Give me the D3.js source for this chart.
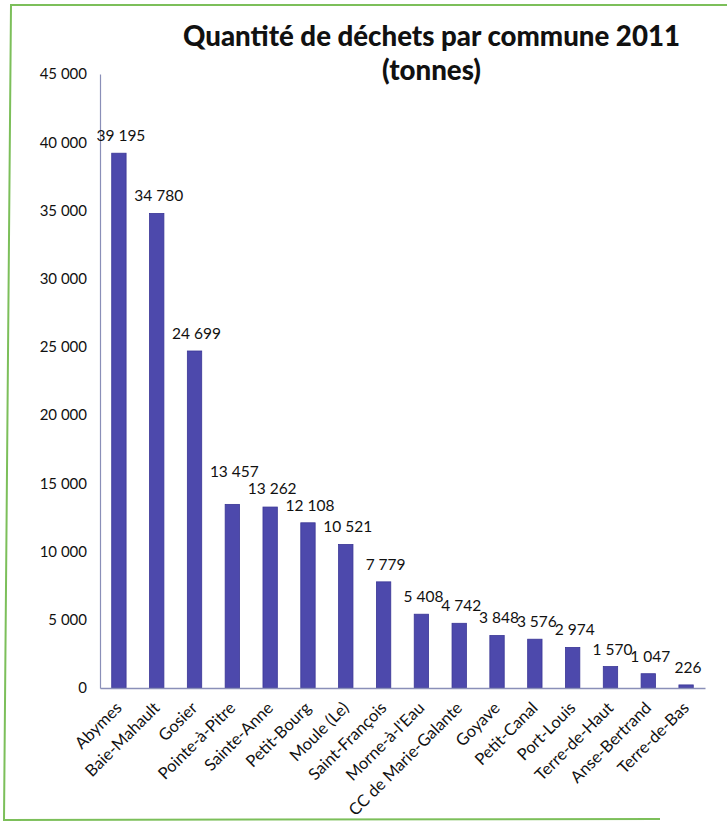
<!DOCTYPE html>
<html><head><meta charset="utf-8">
<script src="https://cdn.jsdelivr.net/npm/d3@7"></script>
<style>body{margin:0;background:#fff}svg{display:block}</style>
</head><body>
<script>
const communes = ["Abymes","Baie-Mahault","Gosier","Pointe-à-Pitre","Sainte-Anne","Petit-Bourg","Moule (Le)","Saint-François","Morne-à-l'Eau","CC de Marie-Galante","Goyave","Petit-Canal","Port-Louis","Terre-de-Haut","Anse-Bertrand","Terre-de-Bas"];
const tonnes = [39195,34780,24699,13457,13262,12108,10521,7779,5408,4742,3848,3576,2974,1570,1047,226];
const yTicks = [0,5000,10000,15000,20000,25000,30000,35000,40000,45000];
const titleLines = ["Quantité de déchets par commune 2011","(tonnes)"];

const W = 727, H = 823;
const svg = d3.select("body").append("svg").attr("width", W).attr("height", H);
const font = "Lato, 'Open Sans', sans-serif";
const fmt = v => d3.format(",")(v).replace(/,/g, " ");

// frame (scanned page border)
svg.append("path").attr("d", "M727,5 L11,5 L4,820 L660,819")
  .attr("fill", "none").attr("stroke", "#7cbf5a").attr("stroke-width", 2);

const x = d3.scaleBand().domain(communes).range([100, 705]).paddingInner(0.62).paddingOuter(0.31);
const y = d3.scaleLinear().domain([0, 45000]).range([688, 74]);

// title
svg.append("text").attr("x", 431.5).attr("y", 46).attr("text-anchor", "middle")
  .attr("font-family", font).attr("font-weight", 900).attr("font-size", 29)
  .attr("textLength", 497).attr("lengthAdjust", "spacingAndGlyphs")
  .attr("fill", "#111").text(titleLines[0]);
svg.append("text").attr("x", 431.5).attr("y", 80).attr("text-anchor", "middle")
  .attr("font-family", font).attr("font-weight", 900).attr("font-size", 29)
  .attr("textLength", 99).attr("lengthAdjust", "spacingAndGlyphs")
  .attr("fill", "#111").text(titleLines[1]);

// y axis
const yAxis = svg.append("g").attr("transform", "translate(100,0)")
  .call(d3.axisLeft(y).tickValues(yTicks).tickSize(0).tickPadding(13).tickFormat(fmt));
yAxis.select(".domain").attr("stroke", "#8a8fb8").attr("stroke-width", 1.2);
yAxis.selectAll("text").attr("font-family", font).attr("font-size", 15).attr("fill", "#111");

// bars
svg.append("g").selectAll("rect").data(communes).join("rect")
  .attr("x", d => x(d)).attr("width", x.bandwidth())
  .attr("y", (d, i) => y(tonnes[i])).attr("height", (d, i) => y(0) - y(tonnes[i]))
  .attr("fill", "#4d49ac").attr("stroke", "#3a3696").attr("stroke-width", 0.8);

// x axis
const xAxis = svg.append("g").attr("transform", "translate(0,688)")
  .call(d3.axisBottom(x).tickSize(0).tickPadding(0));
xAxis.select(".domain").attr("stroke", "#8a8fb8").attr("stroke-width", 1.4);
xAxis.selectAll("text").attr("font-family", font).attr("font-size", 16.5).attr("fill", "#111")
  .attr("text-anchor", "end").attr("dy", 0)
  .attr("transform", "translate(4,21) rotate(-45)");

// value labels (raised when they would collide with the next label, as in the reference)
const labels = svg.append("g").selectAll("text").data(communes).join("text")
  .attr("x", d => x(d) + x.bandwidth() / 2 + 2)
  .attr("y", (d, i) => y(tonnes[i]) - 12)
  .attr("text-anchor", "middle").attr("font-family", font).attr("font-size", 15.5).attr("fill", "#111")
  .text((d, i) => fmt(tonnes[i]));
const nodes = labels.nodes();
const lineH = 17;
for (let i = nodes.length - 2; i >= 0; i--) {
  const a = nodes[i].getBBox(), b = nodes[i + 1].getBBox();
  const ya = +nodes[i].getAttribute("y"), yb = +nodes[i + 1].getAttribute("y");
  const hOverlap = a.x + a.width - b.x;
  if (hOverlap > 3 && ya > yb - lineH) nodes[i].setAttribute("y", yb - lineH);
}
</script>
</body></html>
